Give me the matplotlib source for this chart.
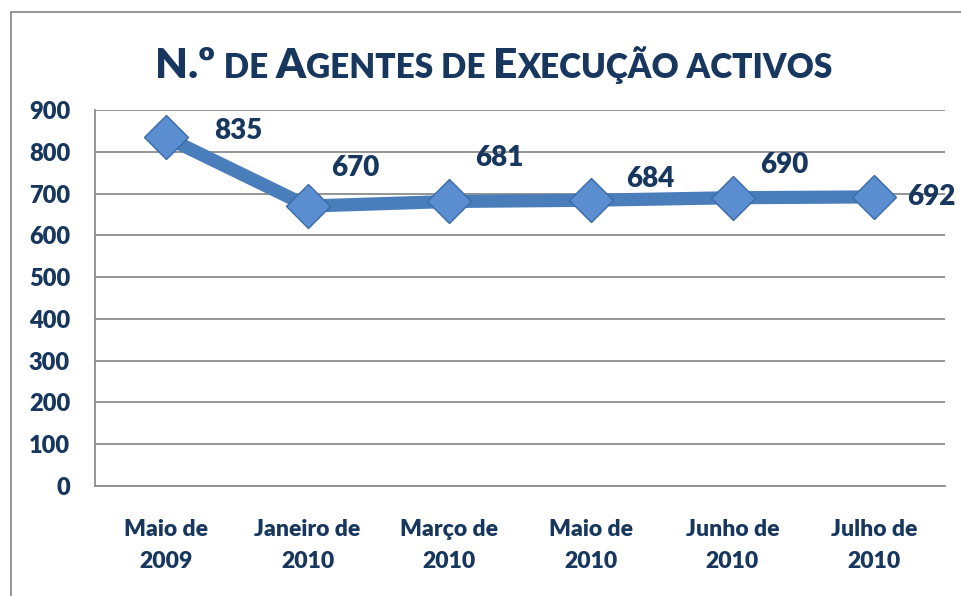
import numpy as np
import matplotlib.pyplot as plt
from matplotlib.offsetbox import TextArea, HPacker, AnchoredOffsetbox
from matplotlib.patches import Rectangle

# dados do grafico
categorias = ["Maio de\n2009", "Janeiro de\n2010", "Março de\n2010",
              "Maio de\n2010", "Junho de\n2010", "Julho de\n2010"]
agentes = [835, 670, 681, 684, 690, 692]
# deslocamento dos rotulos (pixels) em relacao ao marcador
desloc_rotulos = [(72, 6), (48, 38), (50, 43), (59, 21), (52, 33), (57, 0)]

cor_texto = "#17375E"
cor_linha = "#4A7EBB"
cor_grelha = "#8C8C8C"
fonte = "Lato"
peso = "heavy"

plt.rcParams['font.family'] = [fonte, 'DejaVu Sans']

fig = plt.figure(figsize=(9.61, 5.96), dpi=100)
fig.patch.set_facecolor("white")

# moldura exterior do grafico
fig.patches.append(Rectangle((10.5 / 961, -0.05), 1.1, 1 - 12.5 / 596 + 0.05,
                             transform=fig.transFigure, fill=False,
                             edgecolor=cor_grelha, linewidth=1.3))

ax = fig.add_axes([95 / 961, 1 - 486 / 596, 850 / 961, 376 / 596])
x = np.arange(len(categorias))

ax.plot(x, agentes, color=cor_linha, linewidth=9.5, solid_joinstyle="miter",
        zorder=3)
ax.plot(x, agentes, linestyle="none", marker="D", markersize=22,
        markerfacecolor="#5B8ED0", markeredgecolor="#3A6AA8",
        markeredgewidth=1.0, zorder=4)

for xi, v, (dx, dy) in zip(x, agentes, desloc_rotulos):
    ax.annotate(str(v), (xi, v), xytext=(dx * 0.72, dy * 0.72),
                textcoords="offset points", ha="center", va="center",
                fontsize=20, fontweight=peso, color=cor_texto, zorder=5)

ax.set_xlim(-0.5, len(categorias) - 0.5)
ax.set_ylim(0, 900)
ax.set_yticks(np.arange(0, 901, 100))
ax.yaxis.grid(True, color=cor_grelha, linewidth=1.3)
ax.set_axisbelow(True)
ax.set_xticks(x)
ax.set_xticklabels(categorias, fontsize=16.5, fontweight=peso,
                   color=cor_texto, linespacing=1.6)
ax.tick_params(axis="x", length=0, pad=24)
ax.tick_params(axis="y", length=0, pad=18, labelsize=17, labelcolor=cor_texto)
for lbl in ax.get_yticklabels():
    lbl.set_fontweight(peso)

for lado in ["top", "right"]:
    ax.spines[lado].set_visible(False)
for lado in ["left", "bottom"]:
    ax.spines[lado].set_color(cor_grelha)
    ax.spines[lado].set_linewidth(1.3)

# titulo em versaletes
grande = dict(fontsize=30.5, fontweight=peso, color=cor_texto, family=fonte)
pequeno = dict(fontsize=24, fontweight=peso, color=cor_texto, family=fonte)
partes = [("N.º", grande), (" DE ", pequeno), ("A", grande),
          ("GENTES DE ", pequeno), ("E", grande), ("XECUÇÃO ACTIVOS", pequeno)]
caixa = HPacker(children=[TextArea(t, textprops=p) for t, p in partes],
                align="baseline", pad=0, sep=0)
titulo = AnchoredOffsetbox(loc="center", child=caixa, pad=0, frameon=False,
                           bbox_to_anchor=(494 / 961, 1 - 66 / 596),
                           bbox_transform=fig.transFigure, borderpad=0)
fig.add_artist(titulo)

fig.savefig("out.png", dpi=100)
